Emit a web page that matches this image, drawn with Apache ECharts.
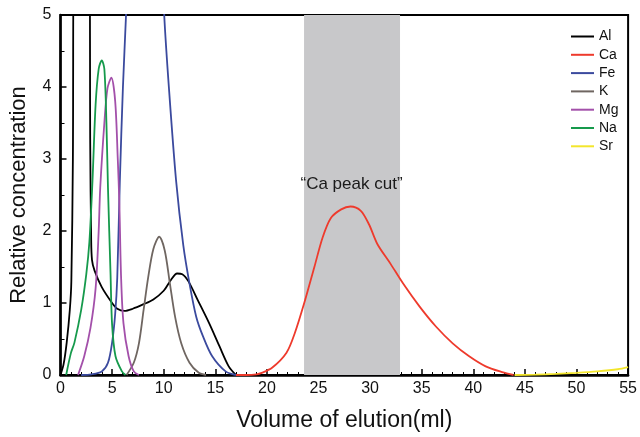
<!DOCTYPE html>
<html>
<head>
<meta charset="utf-8">
<script src="https://cdn.jsdelivr.net/npm/echarts@6/dist/echarts.min.js"></script>
<style>
  html, body { margin: 0; padding: 0; background: #fff; }
  #main { width: 640px; height: 437px; }
</style>
</head>
<body>
<div id="main"></div>
<script>
// element names, in legend order
var names = ['Al', 'Ca', 'Fe', 'K', 'Mg', 'Na', 'Sr'];
var colors = ['#000000', '#ee3a2c', '#3b4a9e', '#6f6661', '#a350aa', '#169a4c', '#f3e62c'];

// elution volume (ml) / relative concentration
// values above 5 run off the top of the plot
var alX = [0, 0.3, 0.6, 0.9, 1.05, 1.2, 1.3, 2.8, 2.88, 2.97, 3.05, 3.3, 4, 5, 5.5, 6.2, 7, 8, 9, 10, 10.7, 11.3, 11.8, 12.4, 13.3, 14.4, 15.4, 16.3, 17];
var alY = [0, 0.15, 0.45, 0.9, 1.3, 3, 6, 6, 3.2, 1.9, 1.6, 1.45, 1.22, 1.0, 0.92, 0.89, 0.92, 0.98, 1.05, 1.17, 1.32, 1.41, 1.40, 1.3, 1.04, 0.72, 0.4, 0.12, 0];

var caX = [17, 18, 19, 19.5, 20.5, 21.9, 22.7, 23.7, 24.6, 25.4, 26.2, 27.2, 28.1, 29.1, 29.9, 30.7, 32, 33.2, 34.8, 36.4, 38, 39.6, 41.2, 42.8, 43.9];
var caY = [0, 0, 0.01, 0.03, 0.1, 0.31, 0.58, 1.04, 1.5, 1.91, 2.18, 2.3, 2.34, 2.28, 2.09, 1.82, 1.54, 1.27, 0.95, 0.67, 0.44, 0.26, 0.12, 0.04, 0];

var feX = [2, 3, 4, 4.6, 5, 5.3, 5.5, 5.75, 6.05, 6.35, 6.6, 9.8, 10.05, 10.5, 11.2, 11.9, 12.5, 13.15, 13.8, 14.7, 16, 17];
var feY = [0, 0.01, 0.05, 0.17, 0.45, 0.85, 1.35, 2.7, 4, 5, 6, 6, 5, 4, 2.7, 1.8, 1.27, 0.81, 0.54, 0.26, 0.05, 0];

var kX = [6.4, 7.1, 7.6, 8.05, 8.5, 9.0, 9.57, 10.1, 10.6, 11.1, 11.7, 12.5, 13.4, 14.1];
var kY = [0, 0.17, 0.44, 0.9, 1.36, 1.75, 1.92, 1.73, 1.27, 0.81, 0.44, 0.17, 0.03, 0];

var mgX = [1.7, 2.3, 2.9, 3.4, 3.7, 3.85, 4.25, 4.55, 4.93, 5.3, 5.55, 5.7, 5.87, 6.1, 6.6, 7.1, 7.6];
var mgY = [0, 0.26, 0.65, 1.2, 2.0, 2.6, 3.5, 3.98, 4.13, 3.8, 3.0, 2.4, 1.36, 0.72, 0.26, 0.05, 0];

var naX = [0.55, 1, 1.35, 2, 2.5, 2.8, 3.1, 3.4, 3.7, 4.0, 4.25, 4.45, 4.6, 4.85, 5.0, 5.33, 5.95, 6.3];
var naY = [0, 0.3, 0.45, 0.9, 1.4, 1.85, 2.7, 3.75, 4.25, 4.37, 4.25, 3.5, 2.6, 1.4, 0.7, 0.26, 0.05, 0];

var srX = [44, 46, 48, 50, 52, 54, 55];
var srY = [0, 0.005, 0.015, 0.03, 0.05, 0.08, 0.11];

// "Ca peak cut" window
var cutRange = [23.6, 32.9];
var cutLabel = '\u201cCa peak cut\u201d';
var cutLabelAt = [28.2, 2.65];

var xTicks = [0, 5, 10, 15, 20, 25, 30, 35, 40, 45, 50, 55];
var yTicks = [0, 1, 2, 3, 4, 5];

var seriesX = [alX, caX, feX, kX, mgX, naX, srX];
var seriesY = [alY, caY, feY, kY, mgY, naY, srY];

function pairs (xs, ys) {
  var out = [];
  for (var i = 0; i < xs.length; i++) {
    out.push([xs[i], ys[i]]);
  }
  return out;
}

var myChart = echarts.init(document.getElementById('main'));
var font = 'Liberation Sans, Arial, sans-serif';

var series = [];
// grey band with its label, under the lines
series.push({
  name: 'band',
  type: 'line',
  data: [],
  z: 1,
  markArea: {
    silent: true,
    itemStyle: { color: '#c8c8ca', opacity: 1 },
    data: [[{ xAxis: cutRange[0] }, { xAxis: cutRange[1] }]]
  },
  markPoint: {
    silent: true,
    symbol: 'circle',
    symbolSize: 0,
    label: {
      show: true,
      formatter: cutLabel,
      color: '#1a1a1a',
      fontSize: 17,
      fontFamily: font
    },
    data: [{ coord: cutLabelAt }]
  }
});
for (var i = 0; i < names.length; i++) {
  series.push({
    name: names[i],
    type: 'line',
    data: pairs(seriesX[i], seriesY[i]),
    smooth: 0.3,
    showSymbol: false,
    clip: true,
    z: 3,
    lineStyle: { color: colors[i], width: 1.8 },
    itemStyle: { color: colors[i] }
  });
}

var option = {
  animation: false,
  backgroundColor: '#fff',
  grid: {
    left: 56, right: 9, top: 15, bottom: 58,
    show: true,
    borderColor: '#000',
    borderWidth: 2,
    backgroundColor: 'transparent'
  },
  legend: {
    data: names,
    orient: 'vertical',
    left: 566,
    top: 24.5,
    itemWidth: 23,
    itemHeight: 2,
    itemGap: 4.3,
    icon: 'rect',
    textStyle: { fontSize: 14, fontFamily: font, color: '#111', lineHeight: 14 }
  },
  xAxis: {
    type: 'value',
    min: 0, max: 55, interval: 5,
    name: 'Volume of elution(ml)',
    nameLocation: 'middle',
    nameGap: 34,
    nameTextStyle: { fontSize: 23, fontFamily: font, color: '#111' },
    axisLine: { show: true, lineStyle: { color: '#000', width: 2.5 } },
    axisTick: { show: true, inside: true, length: 6, lineStyle: { color: '#000', width: 1.5 } },
    minorTick: { show: true, splitNumber: 5, length: 3, lineStyle: { color: '#000', width: 1 } },
    splitLine: { show: false },
    axisLabel: {
      fontSize: 16, fontFamily: font, color: '#111', margin: 6,
      formatter: function (v) { return xTicks.indexOf(v) >= 0 ? String(v) : ''; }
    }
  },
  yAxis: {
    type: 'value',
    min: 0, max: 5, interval: 1,
    name: 'Relative concentration',
    nameLocation: 'middle',
    nameGap: 30.5,
    nameTextStyle: { fontSize: 22, fontFamily: font, color: '#111' },
    axisLine: { show: true, lineStyle: { color: '#000', width: 2.5 } },
    axisTick: { show: true, inside: true, length: 6, lineStyle: { color: '#000', width: 1.5 } },
    minorTick: { show: true, splitNumber: 2, length: 4, lineStyle: { color: '#000', width: 1 } },
    splitLine: { show: false },
    axisLabel: {
      fontSize: 16, fontFamily: font, color: '#111', margin: 9,
      formatter: function (v) { return yTicks.indexOf(v) >= 0 ? String(v) : ''; }
    }
  },
  series: series
};

myChart.setOption(option);
</script>
</body>
</html>
